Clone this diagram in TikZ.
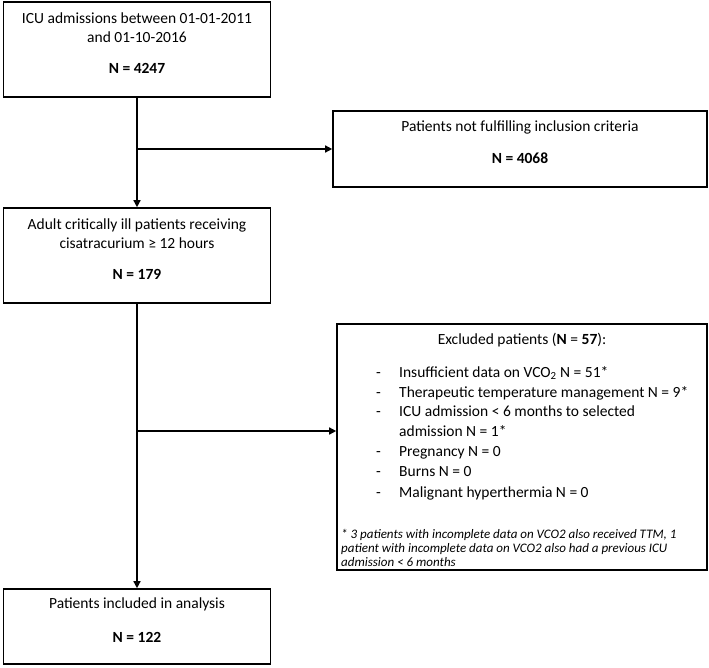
\documentclass[tikz,border=0pt]{standalone}
\usepackage{fontspec}
\setmainfont{Carlito}
\usetikzlibrary{arrows.meta}
\begin{document}
\begin{tikzpicture}[x=1pt,y=-1pt,
  box/.style={draw=black,line width=1.6pt,inner sep=0pt},
  txt/.style={anchor=base,font=\fontsize{15.5}{18}\selectfont,inner sep=0pt},
  itm/.style={anchor=base west,font=\fontsize{15.5}{18}\selectfont,inner sep=0pt},
  fn/.style={anchor=base west,font=\fontsize{13}{15}\selectfont\itshape,inner sep=0pt},
  arr/.style={line width=1.4pt,-{Triangle[length=7pt,width=7pt]}},
  ln/.style={line width=1.4pt}]
\useasboundingbox (0,0) rectangle (709,667);
% boxes
\node[box,minimum width=267pt,minimum height=95pt] (b1) at (137,49.5) {};
\node[box,minimum width=374pt,minimum height=76pt] (b2) at (520,149) {};
\node[box,minimum width=267pt,minimum height=95pt] (b3) at (137,255.5) {};
\node[box,minimum width=370pt,minimum height=246pt] (b4) at (522,447) {};
\node[box,minimum width=267pt,minimum height=75pt] (b5) at (137,626.5) {};
% texts
\node[txt] (t1a) at (137,23) {ICU admissions between 01-01-2011};
\node[txt] (t1b) at (137,42) {and 01-10-2016};
\node[txt] (t1c) at (137,73) {\textbf{N = 4247}};
\node[txt] (t2a) at (520,131) {Patients not fulfilling inclusion criteria};
\node[txt] (t2b) at (520,163) {\textbf{N = 4068}};
\node[txt] (t3a) at (137,229) {Adult critically ill patients receiving};
\node[txt] (t3b) at (137,248) {cisatracurium ≥ 12 hours};
\node[txt] (t3c) at (137,279) {\textbf{N = 179}};
\node[txt] (t4) at (522,344) {Excluded patients (\textbf{N} = \textbf{57}):};
\foreach \y/\t [count=\i] in {377/{Insufficient data on VCO\textsubscript{2} N = 51*},
  397/{Therapeutic temperature management N = 9*},
  416/{ICU admission < 6 months to selected},
  456/{Pregnancy N = 0},
  476/{Burns N = 0},
  497/{Malignant hyperthermia N = 0}}{
  \node[itm] (d\i) at (376,\y) {-};
  \node[itm] (i\i) at (399,\y) {\t};
}
\node[itm] (i3b) at (399,436) {admission N = 1*};
\node[fn] (f1) at (341,538) {* 3 patients with incomplete data on VCO2 also received TTM, 1};
\node[fn] (f2) at (341,552) {patient with incomplete data on VCO2 also had a previous ICU};
\node[fn] (f3) at (341,566) {admission < 6 months};
\node[txt] (t5a) at (137,608) {Patients included in analysis};
\node[txt] (t5b) at (137,642) {\textbf{N = 122}};
% connectors
\draw[arr] (b1.south) -- (b3.north);
\coordinate (j1) at (b1.south |- b2.west);
\draw[arr] (j1) -- (b2.west);
\draw[arr] (b3.south) -- (b5.north);
\coordinate (j2) at (137,431);
\draw[arr] (j2) -- (b4.west |- j2);
\end{tikzpicture}
\end{document}
